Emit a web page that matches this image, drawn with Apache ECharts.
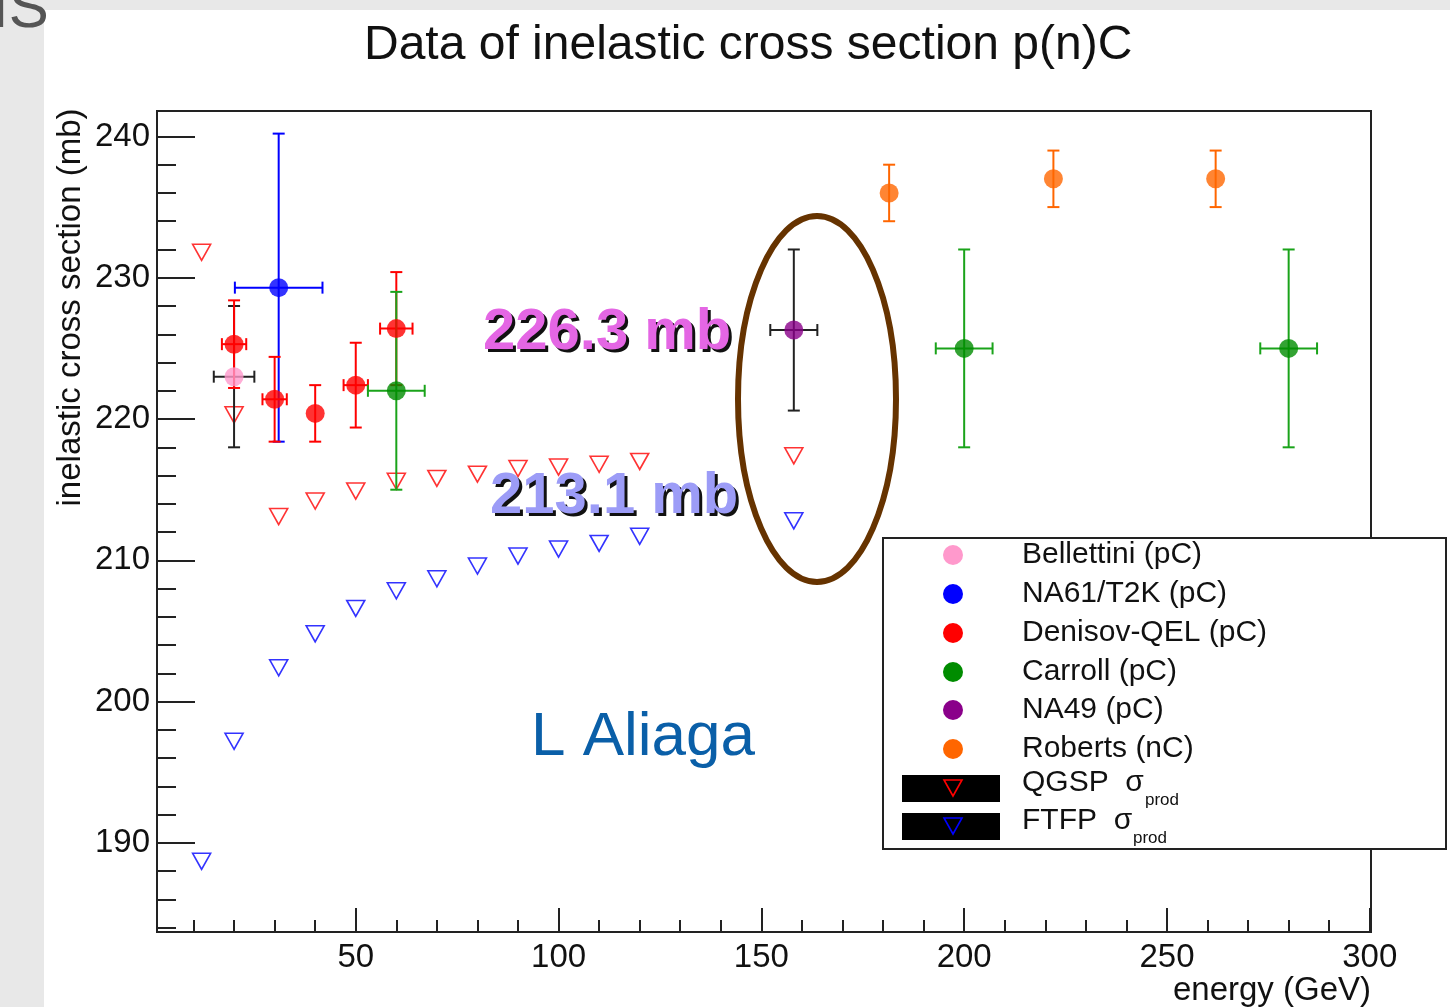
<!DOCTYPE html>
<html>
<head>
<meta charset="utf-8">
<script src="https://cdn.jsdelivr.net/npm/echarts@6.0.0/dist/echarts.min.js"></script>
<style>
html, body { margin: 0; padding: 0; background: #fff; }
#main { width: 1450px; height: 1007px; }
</style>
</head>
<body>
<div id="main"></div>
<script>
// energy (GeV), cross section (mb) and their errors
const bel_E = [20], bel_sig = [223.0], bel_dE = [5], bel_dsig = [5];
const na61_E = [31], na61_sig = [229.3], na61_dE = [10.8], na61_dsig = [10.9];
const den_E = [20, 30, 40, 50, 60];
const den_sig = [225.3, 221.4, 220.4, 222.4, 226.4];
const den_dE = [3, 3, 0, 3, 4];
const den_dsig = [3.1, 3.0, 2.0, 3.0, 4.0];
const car_E = [60, 200, 280], car_sig = [222.0, 225.0, 225.0], car_dE = [7, 7, 7], car_dsig = [7, 7, 7];
const na49_E = [158], na49_sig = [226.3], na49_dE = [5.8], na49_dsig = [5.7];
const rob_E = [181.5, 222, 262], rob_sig = [236.0, 237.0, 237.0], rob_dE = [0, 0, 0], rob_dsig = [2, 2, 2];

const model_E = [12, 20, 31, 40, 50, 60, 70, 80, 90, 100, 110, 120, 158];
const qgsp_sig = [231.8, 220.3, 213.1, 214.2, 214.9, 215.6, 215.8, 216.1, 216.5, 216.6, 216.8, 217.0, 217.4];
const ftfp_sig = [188.7, 197.2, 202.4, 204.8, 206.6, 207.85, 208.7, 209.6, 210.3, 210.8, 211.2, 211.7, 212.8];

const x_major = [50, 100, 150, 200, 250, 300];
const x_minor = [10, 20, 30, 40, 60, 70, 80, 90, 110, 120, 130, 140, 160, 170, 180, 190, 210, 220, 230, 240, 260, 270, 280, 290];
const y_major = [190, 200, 210, 220, 230, 240];
const y_minor = [184, 186, 188, 192, 194, 196, 198, 202, 204, 206, 208, 212, 214, 216, 218, 222, 224, 226, 228, 232, 234, 236, 238, 240];

const names = ['Bellettini (pC)', 'NA61/T2K (pC)', 'Denisov-QEL (pC)', 'Carroll (pC)', 'NA49 (pC)', 'Roberts (nC)'];
const dotColors = ['#ff99cc', '#0000ff', '#ff0000', '#008c00', '#8a008a', '#ff6600'];
const barColors = ['#222222', '#0000ff', '#ff0000', '#1aa31a', '#222222', '#ff6600'];

const FONT = '"Liberation Sans", Arial, Helvetica, sans-serif';

function pts(E, s) { return E.map((e, i) => [e, s[i]]); }
function errs(E, s, dE, ds) { return E.map((e, i) => [e, s[i], dE[i], ds[i]]); }

function errRender(color) {
  return function (params, api) {
    const x = api.value(0), y = api.value(1), ex = api.value(2), ey = api.value(3);
    const c = api.coord([x, y]);
    const st = { stroke: color, lineWidth: 2 };
    const cap = 6;
    const kids = [];
    if (ey > 0) {
      const t = api.coord([x, y + ey]), b = api.coord([x, y - ey]);
      kids.push({ type: 'line', shape: { x1: c[0], y1: t[1], x2: c[0], y2: b[1] }, style: st });
      kids.push({ type: 'line', shape: { x1: c[0] - cap, y1: t[1], x2: c[0] + cap, y2: t[1] }, style: st });
      kids.push({ type: 'line', shape: { x1: c[0] - cap, y1: b[1], x2: c[0] + cap, y2: b[1] }, style: st });
    }
    if (ex > 0) {
      const l = api.coord([x - ex, y]), r = api.coord([x + ex, y]);
      kids.push({ type: 'line', shape: { x1: l[0], y1: c[1], x2: r[0], y2: c[1] }, style: st });
      kids.push({ type: 'line', shape: { x1: l[0], y1: c[1] - cap, x2: l[0], y2: c[1] + cap }, style: st });
      kids.push({ type: 'line', shape: { x1: r[0], y1: c[1] - cap, x2: r[0], y2: c[1] + cap }, style: st });
    }
    return { type: 'group', children: kids };
  };
}

const dataSets = [
  errs(bel_E, bel_sig, bel_dE, bel_dsig),
  errs(na61_E, na61_sig, na61_dE, na61_dsig),
  errs(den_E, den_sig, den_dE, den_dsig),
  errs(car_E, car_sig, car_dE, car_dsig),
  errs(na49_E, na49_sig, na49_dE, na49_dsig),
  errs(rob_E, rob_sig, rob_dE, rob_dsig)
];

const series = [];
// model curves (open down triangles)
series.push({
  name: 'QGSP', type: 'scatter', data: pts(model_E, qgsp_sig),
  symbol: 'triangle', symbolRotate: 180, symbolSize: [18, 16], z: 2,
  itemStyle: { color: 'rgba(0,0,0,0)', borderColor: '#ff0000', borderWidth: 1.6 }
});
series.push({
  name: 'FTFP', type: 'scatter', data: pts(model_E, ftfp_sig),
  symbol: 'triangle', symbolRotate: 180, symbolSize: [18, 16], z: 2,
  itemStyle: { color: 'rgba(0,0,0,0)', borderColor: '#0000ff', borderWidth: 1.6 }
});
dataSets.forEach((d, k) => {
  series.push({
    name: names[k] + ' err', type: 'custom', data: d, z: 3,
    encode: { x: 0, y: 1 }, renderItem: errRender(barColors[k])
  });
  series.push({
    name: names[k], type: 'scatter', data: d.map(p => [p[0], p[1]]), z: 4,
    symbol: 'circle', symbolSize: 19, itemStyle: { color: dotColors[k] }
  });
});

// legend drawn by hand (ROOT style box)
const legRows = [555, 594, 633, 672, 710, 749, 788, 826];
const legend = [];
legend.push({ type: 'rect', z: 50, shape: { x: 883, y: 538, width: 563, height: 311 },
  style: { fill: '#fff', stroke: '#222', lineWidth: 2 } });
names.forEach((n, k) => {
  legend.push({ type: 'circle', z: 51, shape: { cx: 953, cy: legRows[k], r: 10 }, style: { fill: dotColors[k] } });
  legend.push({ type: 'text', z: 51, x: 1022, y: legRows[k],
    style: { text: n, font: '30px ' + FONT, fill: '#111', verticalAlign: 'middle' } });
});
[['QGSP', '#ff0000', 1145], ['FTFP', '#0000ff', 1133]].forEach((m, j) => {
  const cy = legRows[6 + j];
  legend.push({ type: 'rect', z: 51, shape: { x: 902, y: cy - 13, width: 98, height: 27 }, style: { fill: '#000' } });
  legend.push({ type: 'polygon', z: 52, shape: { points: [[944, cy - 8], [962, cy - 8], [953, cy + 8]] },
    style: { fill: 'none', stroke: m[1], lineWidth: 1.6 } });
  legend.push({ type: 'text', z: 51, x: 1022, y: cy - 5,
    style: { text: m[0] + '  σ', font: '30px ' + FONT, fill: '#111', verticalAlign: 'middle' } });
  legend.push({ type: 'text', z: 51, x: m[2], y: cy + 12,
    style: { text: 'prod', font: '17px ' + FONT, fill: '#111', verticalAlign: 'middle' } });
});

// bold annotation with a dark drop shadow
function shadowText(str, x, y, color) {
  const font = 'bold 58px ' + FONT;
  return [
    { type: 'text', z: 20, x: x + 3, y: y + 3, style: { text: str, font: font, fill: '#111', verticalAlign: 'middle' } },
    { type: 'text', z: 21, x: x, y: y, style: { text: str, font: font, fill: color, verticalAlign: 'middle' } }
  ];
}

const axisCommon = {
  type: 'value', splitLine: { show: false }
};

const option = {
  animation: false,
  backgroundColor: '#fff',
  title: {
    text: 'Data of inelastic cross section p(n)C',
    left: 359, top: 17,
    textStyle: { fontFamily: FONT, fontSize: 48, fontWeight: 'normal', color: '#111' }
  },
  grid: [
    { left: 157, right: 79, top: 111, bottom: 75, show: true, borderColor: '#222', borderWidth: 2, outerBoundsMode: 'none', containLabel: false },
    { left: 157, right: 79, top: 111, bottom: 75, show: false, outerBoundsMode: 'none', containLabel: false }
  ],
  xAxis: [
    Object.assign({}, axisCommon, {
      gridIndex: 0, min: 1, max: 300.3,
      axisLine: { lineStyle: { color: '#222', width: 2 } },
      axisTick: { inside: true, length: 24, customValues: x_major, lineStyle: { color: '#222', width: 2 } },
      axisLabel: { customValues: x_major, fontFamily: FONT, fontSize: 33, color: '#111', margin: 9 },
      name: 'energy (GeV)', nameLocation: 'end', nameGap: 0, nameMoveOverlap: false,
      nameTextStyle: { fontFamily: FONT, fontSize: 33, color: '#111', align: 'right', verticalAlign: 'top', padding: [42, 0, 0, 0] }
    }),
    Object.assign({}, axisCommon, {
      gridIndex: 1, min: 1, max: 300.3,
      axisLine: { show: false },
      axisTick: { inside: true, length: 12, customValues: x_minor, lineStyle: { color: '#222', width: 2 } },
      axisLabel: { show: false }
    })
  ],
  yAxis: [
    Object.assign({}, axisCommon, {
      gridIndex: 0, min: 183.7, max: 241.8,
      axisLine: { show: true, lineStyle: { color: '#222', width: 2 } },
      axisTick: { show: true, inside: true, length: 38, customValues: y_major, lineStyle: { color: '#222', width: 2 } },
      axisLabel: { customValues: y_major, fontFamily: FONT, fontSize: 33, color: '#111', margin: 7 },
      name: 'inelastic cross section (mb)', nameLocation: 'middle', nameGap: 70, nameMoveOverlap: false,
      nameTextStyle: { fontFamily: FONT, fontSize: 33, color: '#111', padding: [0, 0, 0, 428] }
    }),
    Object.assign({}, axisCommon, {
      gridIndex: 1, min: 183.7, max: 241.8,
      axisLine: { show: false },
      axisTick: { show: true, inside: true, length: 19, customValues: y_minor, lineStyle: { color: '#222', width: 2 } },
      axisLabel: { show: false }
    })
  ],
  series: series,
  graphic: [
    // slide background strips
    { type: 'rect', z: -10, shape: { x: 0, y: 0, width: 1450, height: 10 }, style: { fill: '#e8e8e8' } },
    { type: 'rect', z: -10, shape: { x: 0, y: 0, width: 44, height: 1007 }, style: { fill: '#e8e8e8' } },
    { type: 'text', z: -9, x: -8, y: 40, style: { text: 'IS', font: '60px ' + FONT, fill: '#555', verticalAlign: 'bottom' } },
    // highlighted NA49 point
    { type: 'ellipse', z: 20, shape: { cx: 817, cy: 399, rx: 79, ry: 183 },
      style: { fill: 'none', stroke: '#663300', lineWidth: 6 } },
    { type: 'text', z: 20, x: 531, y: 738,
      style: { text: 'L Aliaga', font: '62px ' + FONT, fill: '#0a5fa8', verticalAlign: 'middle' } }
  ].concat(shadowText('226.3 mb', 483, 333, '#e466e4'))
   .concat(shadowText('213.1 mb', 490, 497, '#9c9cf7'))
   .concat(legend)
};

const chart = echarts.init(document.getElementById('main'));
chart.setOption(option);
</script>
</body>
</html>
